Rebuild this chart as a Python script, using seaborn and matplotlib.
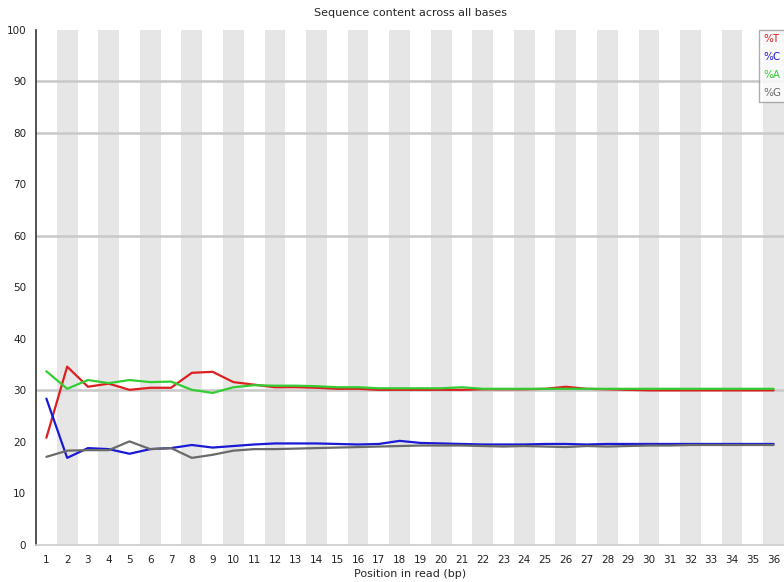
import numpy as np
import pandas as pd
import matplotlib
matplotlib.use("Agg")
import matplotlib.pyplot as plt
from matplotlib.lines import Line2D
import seaborn as sns

positions = list(range(1, 37))
pct_t = [20.8, 34.6, 30.7, 31.3, 30.1, 30.5, 30.5, 33.4, 33.6, 31.6, 31.1, 30.6,
         30.6, 30.5, 30.3, 30.3, 30.1, 30.1, 30.1, 30.1, 30.1, 30.2, 30.2, 30.2,
         30.3, 30.7, 30.3, 30.2, 30.1, 30.0, 30.0, 30.0, 30.0, 30.0, 30.0, 30.0]
pct_c = [28.4, 16.9, 18.8, 18.6, 17.7, 18.6, 18.8, 19.4, 18.9, 19.2, 19.5, 19.7,
         19.7, 19.7, 19.6, 19.5, 19.6, 20.2, 19.8, 19.7, 19.6, 19.5, 19.5, 19.5,
         19.6, 19.6, 19.5, 19.6, 19.6, 19.6, 19.6, 19.6, 19.6, 19.6, 19.6, 19.6]
pct_a = [33.7, 30.3, 32.0, 31.4, 32.0, 31.6, 31.7, 30.1, 29.5, 30.6, 31.0, 30.9,
         30.9, 30.8, 30.6, 30.6, 30.4, 30.4, 30.4, 30.4, 30.6, 30.3, 30.3, 30.3,
         30.3, 30.3, 30.3, 30.3, 30.3, 30.3, 30.3, 30.3, 30.3, 30.3, 30.3, 30.3]
pct_g = [17.1, 18.3, 18.4, 18.4, 20.1, 18.6, 18.8, 16.9, 17.5, 18.3, 18.6, 18.6,
         18.7, 18.8, 18.9, 19.0, 19.1, 19.2, 19.3, 19.3, 19.3, 19.2, 19.1, 19.2,
         19.1, 19.0, 19.2, 19.1, 19.2, 19.3, 19.3, 19.4, 19.4, 19.4, 19.4, 19.4]
bases = ["%T", "%C", "%A", "%G"]
colors = {"%T": "#dd1f1f", "%C": "#1a1ad6", "%A": "#33cc33", "%G": "#6a6a6a"}
y_ticks = list(range(0, 101, 10))
grid_levels = [30, 60, 80, 90]  # only these survive in the reference image

df = pd.DataFrame({
    "pos": positions * 4,
    "pct": pct_t + pct_c + pct_a + pct_g,
    "base": [b for b in bases for _ in positions],
})

sns.set_style("white")
plt.rcParams["font.family"] = ["DejaVu Sans"]

fig = plt.figure(figsize=(7.84, 5.82), dpi=100)
ax = fig.add_axes([36 / 784, 1 - 545 / 582, 748 / 784, (545 - 29.5) / 582])

# alternating column stripes
for p in positions:
    if p % 2 == 0:
        ax.axvspan(p - 0.5, p + 0.5, color="#e6e6e6", lw=0, zorder=0)
for t in grid_levels:
    ax.axhline(t, color="#c8c8c8", lw=1.8, zorder=1)

sns.lineplot(data=df, x="pos", y="pct", hue="base", palette=colors,
             hue_order=bases, lw=1.6, legend=False, ax=ax, zorder=3)

ax.set_xlim(0.5, 36.5)
ax.set_ylim(0, 100)
ax.set_xticks(positions)
ax.set_xticklabels([str(p) for p in positions], fontsize=7.5)
ax.set_yticks(y_ticks)
ax.set_yticklabels([str(t) for t in y_ticks], fontsize=7.5)
ax.tick_params(length=0, pad=7, colors="#222222")
ax.set_xlabel("Position in read (bp)", fontsize=8, labelpad=3)
ax.set_ylabel("")
ax.set_title("Sequence content across all bases", fontsize=8, pad=10)
for side in ["top", "right"]:
    ax.spines[side].set_visible(False)
ax.spines["left"].set_color("#333333")
ax.spines["left"].set_linewidth(1.2)
ax.spines["bottom"].set_color("#cccccc")
ax.spines["bottom"].set_linewidth(1.2)

handles = [Line2D([], [], color=colors[b], lw=0) for b in bases]
leg = ax.legend(handles, bases, loc="upper left", bbox_to_anchor=(0.9665, 1.0),
                handlelength=0, handletextpad=0, labelcolor=[colors[b] for b in bases],
                fontsize=7.5, frameon=True, fancybox=False, borderpad=0.45,
                labelspacing=0.75, borderaxespad=0)
leg.get_frame().set_edgecolor("#999999")
leg.get_frame().set_linewidth(1.0)
leg.set_zorder(5)

fig.savefig("out.png", dpi=100)
